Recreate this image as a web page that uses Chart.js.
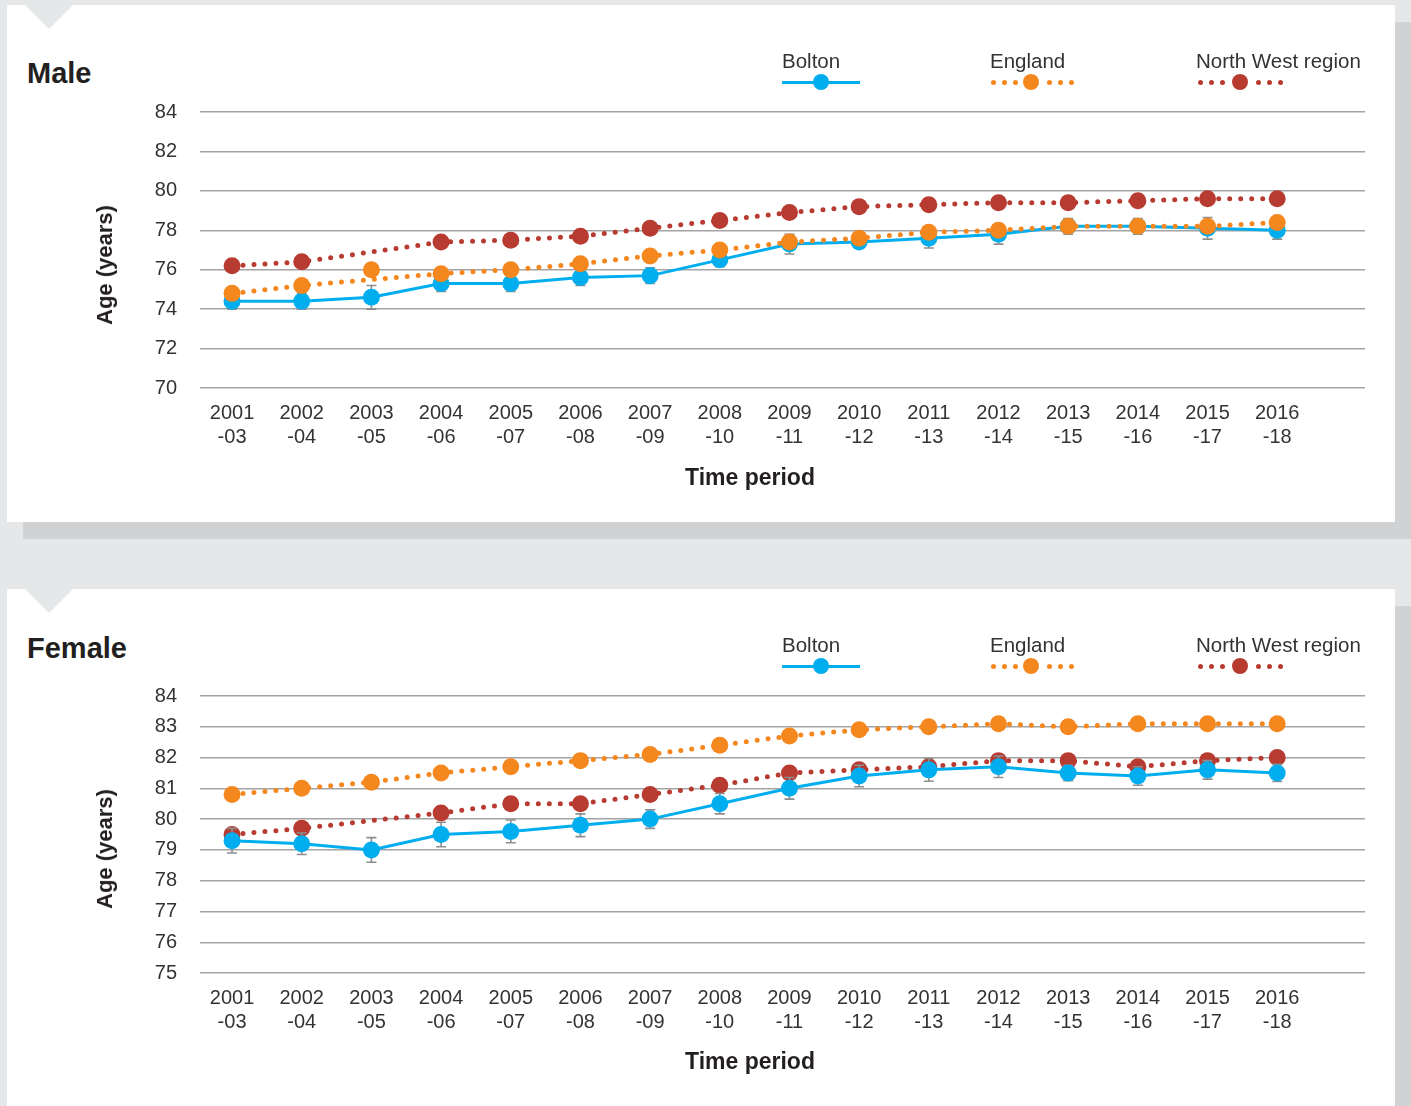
<!DOCTYPE html>
<html>
<head>
<meta charset="utf-8">
<script src="https://cdn.jsdelivr.net/npm/chart.js@4.4.0/dist/chart.umd.min.js"></script>
<style>
  html, body { margin: 0; padding: 0; }
  body { background: #e6e7e8; width: 1411px; height: 1106px; overflow: hidden; position: relative;
         font-family: "Liberation Sans", Arial, sans-serif; }
  .panel { position: absolute; left: 7px; width: 1388px; height: 517px; background: #fff;
           box-shadow: 16px 17px 0 #d1d2d4; }
  #p1 { top: 5px; }
  #p2 { top: 589px; }
  .notch { position: absolute; left: 18px; top: 0; width: 0; height: 0;
           border-left: 24px solid transparent; border-right: 24px solid transparent;
           border-top: 24px solid #e6e7e8; z-index: 2; }
  .title { position: absolute; left: 20px; font-size: 29px; line-height: 34px; font-weight: bold; color: #231f20; }
  .ytitle { position: absolute; left: 98px; top: 260px; font-size: 22px; font-weight: bold; color: #231f20;
            white-space: nowrap; transform: translate(-50%, -50%) rotate(-90deg); z-index: 2; }
  .xtitle { position: absolute; left: 743px; top: 472px; font-size: 23px; font-weight: bold; color: #231f20;
            white-space: nowrap; transform: translate(-50%, -50%); z-index: 2; }
  .legtxt { position: absolute; top: 44px; font-size: 20.5px; line-height: 24px; color: #333; white-space: nowrap; z-index: 2; }
  .dot { position: absolute; border-radius: 50%; z-index: 2; }
  .bar { position: absolute; height: 3px; z-index: 2; }
  canvas { position: absolute; left: 0; top: 0; }
</style>
</head>
<body>
<div class="panel" id="p1">
  <div class="notch"></div>
  <div class="title" style="top:51px">Male</div>
  <div class="ytitle">Age (years)</div>
  <div class="xtitle">Time period</div>
  <div class="leg" id="leg1"></div>
  <canvas id="c1" width="1388" height="517"></canvas>
</div>
<div class="panel" id="p2">
  <div class="notch"></div>
  <div class="title" style="top:42px">Female</div>
  <div class="ytitle">Age (years)</div>
  <div class="xtitle">Time period</div>
  <div class="leg" id="leg2"></div>
  <canvas id="c2" width="1388" height="517"></canvas>
</div>
<script>
// ---------- DATA ----------
const periods = [["2001","-03"],["2002","-04"],["2003","-05"],["2004","-06"],["2005","-07"],["2006","-08"],
  ["2007","-09"],["2008","-10"],["2009","-11"],["2010","-12"],["2011","-13"],["2012","-14"],
  ["2013","-15"],["2014","-16"],["2015","-17"],["2016","-18"]];
const seriesNames = ["Bolton", "England", "North West region"];

const maleBolton    = [74.4,74.4,74.6,75.3,75.3,75.6,75.7,76.5,77.3,77.4,77.6,77.8,78.2,78.2,78.1,78.0];
const maleBoltonErr = [0.4,0.4,0.6,0.4,0.4,0.4,0.4,0.35,0.5,0.3,0.5,0.5,0.4,0.4,0.55,0.45];
const maleEngland   = [74.8,75.2,null,75.8,76.0,76.3,76.7,77.0,77.4,77.6,77.9,78.0,78.2,78.2,78.2,78.4];
const maleEnglandUnjoined = [null,null,76.0,null,null,null,null,null,null,null,null,null,null,null,null,null];
const maleNW        = [76.2,76.4,null,77.4,77.5,77.7,78.1,78.5,78.9,79.2,79.3,79.4,79.4,79.5,79.6,79.6];
const maleTicks = { min: 70, max: 84, step: 2 };

const femaleBolton    = [79.3,79.2,79.0,79.5,79.6,79.8,80.0,80.5,81.0,81.4,81.6,81.7,81.5,81.4,81.6,81.5];
const femaleBoltonErr = [0.4,0.35,0.4,0.4,0.37,0.37,0.3,0.33,0.35,0.35,0.37,0.35,0.25,0.3,0.3,0.28];
const femaleEngland   = [80.8,81.0,81.2,81.5,81.7,81.9,82.1,82.4,82.7,82.9,83.0,83.1,83.0,83.1,83.1,83.1];
const femaleEnglandUnjoined = [null,null,null,null,null,null,null,null,null,null,null,null,null,null,null,null];
const femaleNW        = [79.5,79.7,null,80.2,80.5,80.5,80.8,81.1,81.5,81.6,81.7,81.9,81.9,81.7,81.9,82.0];
const femaleTicks = { min: 75, max: 84, step: 1 };

// ---------- STYLE ----------
const BLUE = '#00aeef', ORANGE = '#f5871f', RED = '#b83b32';
const FONT = '"Liberation Sans", Arial, sans-serif';
const R = 8.5;

function pts(arr) { return arr.map((v, i) => ({ x: i, y: v })); }

const errorBars = {
  id: 'errorBars',
  beforeDatasetDraw(chart, args, opts) {
    if (args.index !== 0) return;
    const err = opts.err; const data = opts.values;
    const xs = chart.scales.x, ys = chart.scales.y, ctx = chart.ctx;
    ctx.save();
    ctx.strokeStyle = '#8e8e8e'; ctx.lineWidth = 1.6;
    data.forEach((v, i) => {
      if (v == null) return;
      const px = xs.getPixelForValue(i);
      const t = ys.getPixelForValue(v + err[i]);
      const b = ys.getPixelForValue(v - err[i]);
      ctx.beginPath();
      ctx.moveTo(px, t); ctx.lineTo(px, b);
      ctx.moveTo(px - 5, t); ctx.lineTo(px + 5, t);
      ctx.moveTo(px - 5, b); ctx.lineTo(px + 5, b);
      ctx.stroke();
    });
    ctx.restore();
  }
};

function makeChart(id, bolton, err, england, englandExtra, nw, tk, topPad, bottomPad) {
  const dotted = { borderDash: [0, 11], borderCapStyle: 'round', borderWidth: 5 };
  new Chart(document.getElementById(id), {
    type: 'line',
    data: {
      datasets: [
        { label: seriesNames[0], data: pts(bolton), borderColor: BLUE, backgroundColor: BLUE,
          borderWidth: 3, pointRadius: R, pointHoverRadius: R, pointBorderWidth: 0, order: 1 },
        Object.assign({ label: seriesNames[1], data: pts(england), borderColor: ORANGE, backgroundColor: ORANGE,
          pointRadius: R, pointHoverRadius: R, pointBorderWidth: 0, spanGaps: true, order: 0 }, dotted),
        Object.assign({ label: seriesNames[2], data: pts(nw), borderColor: RED, backgroundColor: RED,
          pointRadius: R, pointHoverRadius: R, pointBorderWidth: 0, spanGaps: true, order: 2 }, dotted),
        { label: seriesNames[1], data: pts(englandExtra), showLine: false, borderColor: ORANGE, backgroundColor: ORANGE,
          pointRadius: R, pointHoverRadius: R, pointBorderWidth: 0, order: 0 }
      ]
    },
    options: {
      responsive: false, animation: false, devicePixelRatio: 1,
      layout: { padding: { left: 0, top: topPad, right: 30, bottom: bottomPad } },
      plugins: { legend: { display: false }, tooltip: { enabled: false },
                 errorBars: { err: err, values: bolton } },
      scales: {
        x: {
          type: 'linear', min: -0.46, max: 16.26,
          afterBuildTicks: s => { s.ticks = periods.map((_, i) => ({ value: i })); },
          afterFit: s => { s.height = 70; },
          grid: { display: false, drawTicks: false }, border: { display: false },
          ticks: { autoSkip: false, maxRotation: 0, padding: 13, color: '#333',
                   font: { family: FONT, size: 20, lineHeight: 1.2 },
                   callback: v => periods[v] }
        },
        y: {
          min: tk.min, max: tk.max,
          afterBuildTicks: s => { const t = []; for (let v = tk.min; v <= tk.max + 1e-9; v += tk.step) t.push({ value: v }); s.ticks = t; },
          afterFit: s => { s.width = 193; },
          grid: { color: '#a3a3a3', lineWidth: 1.4, drawTicks: false }, border: { display: false },
          ticks: { padding: 23, color: '#333', font: { family: FONT, size: 20 } }
        }
      }
    },
    plugins: [errorBars]
  });
}

makeChart('c1', maleBolton, maleBoltonErr, maleEngland, maleEnglandUnjoined, maleNW, maleTicks, 107, 64);
makeChart('c2', femaleBolton, femaleBoltonErr, femaleEngland, femaleEnglandUnjoined, femaleNW, femaleTicks, 107, 63);

// ---------- LEGEND (HTML) ----------
function buildLegend(el) {
  const panel = el.parentNode;
  function add(cls, style, text) {
    const d = document.createElement('div'); d.className = cls; Object.assign(d.style, style);
    if (text) d.textContent = text; panel.appendChild(d);
  }
  const ly = 77;
  add('legtxt', { left: '775px' }, seriesNames[0]);
  add('bar', { left: '775px', width: '78px', top: (ly - 1.5) + 'px', background: BLUE });
  add('dot', { left: (814 - 8) + 'px', top: (ly - 8) + 'px', width: '16px', height: '16px', background: BLUE });
  [[seriesNames[1], 983, [986, 997, 1008, 1042, 1053, 1064], 1024, ORANGE],
   [seriesNames[2], 1189, [1193, 1204, 1215, 1251, 1262, 1273], 1233, RED]].forEach(([name, tx, dots, mk, col]) => {
    add('legtxt', { left: tx + 'px' }, name);
    dots.forEach(x => add('dot', { left: (x - 2.5) + 'px', top: (ly - 2.5) + 'px', width: '5px', height: '5px', background: col }));
    add('dot', { left: (mk - 8) + 'px', top: (ly - 8) + 'px', width: '16px', height: '16px', background: col });
  });
}
buildLegend(document.getElementById('leg1'));
buildLegend(document.getElementById('leg2'));
</script>
</body>
</html>
